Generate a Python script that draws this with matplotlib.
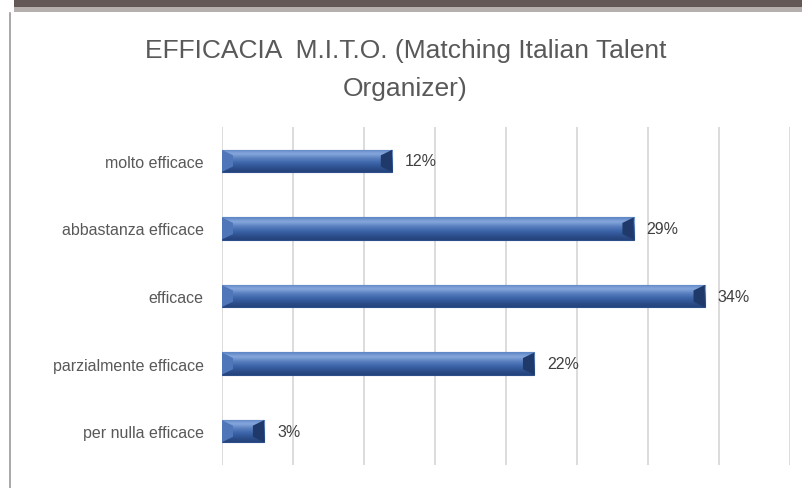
"""
Bar chart: efficacia M.I.T.O. (Matching Italian Talent Organizer)
"""

import matplotlib

matplotlib.use("Agg")
import matplotlib.pyplot as plt
import matplotlib.ticker as mticker
import numpy as np
from matplotlib.colors import LinearSegmentedColormap
from matplotlib.lines import Line2D
from matplotlib.patches import Polygon, Rectangle

categories = [
    "molto efficace",
    "abbastanza efficace",
    "efficace",
    "parzialmente efficace",
    "per nulla efficace",
]
values = [12, 29, 34, 22, 3]
labels = ["12%", "29%", "34%", "22%", "3%"]

TITLE = "EFFICACIA  M.I.T.O. (Matching Italian Talent\nOrganizer)"
TEXT_COLOR = "#595959"
FONT = ["Liberation Sans", "DejaVu Sans"]

plt.rcParams["font.family"] = FONT

fig = plt.figure(figsize=(8.03, 4.89), dpi=100)
fig.patch.set_facecolor("white")

# frame decorations (dark top band + left border of the pasted chart)
fig.add_artist(Rectangle((0.018, 0.982), 1.0, 0.02, transform=fig.transFigure,
                         facecolor="#635856", edgecolor="none"))
fig.add_artist(Rectangle((0.018, 0.974), 1.0, 0.009, transform=fig.transFigure,
                         facecolor="#b5b0ae", edgecolor="none"))
fig.add_artist(Line2D([0.013, 0.013], [0.0, 0.972], transform=fig.transFigure,
                      color="#9a9a9a", linewidth=1.2))

ax = fig.add_axes([0.276, 0.047, 0.708, 0.691])

y = np.arange(len(categories))
bar_h = 0.33
bars = ax.barh(y, values, height=bar_h, color="#3d66aa", edgecolor="#2c4f8a",
               linewidth=0.8, zorder=3)

# bevel look: vertical gradient clipped to each bar, dark right end
grad = LinearSegmentedColormap.from_list(
    "bevel", ["#5c84c4", "#86a8dc", "#5a80c0", "#3d66aa", "#2e5190", "#25427a"])
g = np.linspace(0, 1, 64).reshape(-1, 1)
for bar, v, lab in zip(bars, values, labels):
    y0 = bar.get_y()
    h = bar.get_height()
    im = ax.imshow(g, cmap=grad, aspect="auto", zorder=3.5,
                   extent=[0, v, y0 + h, y0], interpolation="bicubic")
    im.set_clip_path(bar)
    e = 0.8
    ax.add_patch(Polygon([[v - e, y0 + h * 0.25], [v, y0], [v, y0 + h], [v - e, y0 + h * 0.75]],
                         closed=True, facecolor="#1f3a6a", edgecolor="none", zorder=4))
    ax.add_patch(Polygon([[0, y0], [e, y0 + h * 0.25], [e, y0 + h * 0.75], [0, y0 + h]],
                         closed=True, facecolor="#4f76b8", edgecolor="none", zorder=4))
    ax.text(v + 0.9, y0 + h / 2, lab, va="center", ha="left",
            fontsize=11.5, color="#404040", zorder=5)

ax.set_xlim(0, 40)
ax.set_ylim(len(categories) - 0.5, -0.5)
ax.xaxis.set_major_locator(mticker.MultipleLocator(5))
ax.grid(axis="x", color="#d9d9d9", linewidth=1.3, zorder=0)
ax.set_xticklabels([])
ax.tick_params(axis="x", length=0)
ax.tick_params(axis="y", length=0, pad=13, labelsize=11.5, labelcolor=TEXT_COLOR)
ax.set_yticks(y)
ax.set_yticklabels(categories)
for s in ax.spines.values():
    s.set_visible(False)

fig.text(0.505, 0.857, TITLE, ha="center", va="center", fontsize=19,
         color=TEXT_COLOR, linespacing=1.75)

fig.savefig("out.png", dpi=100)
